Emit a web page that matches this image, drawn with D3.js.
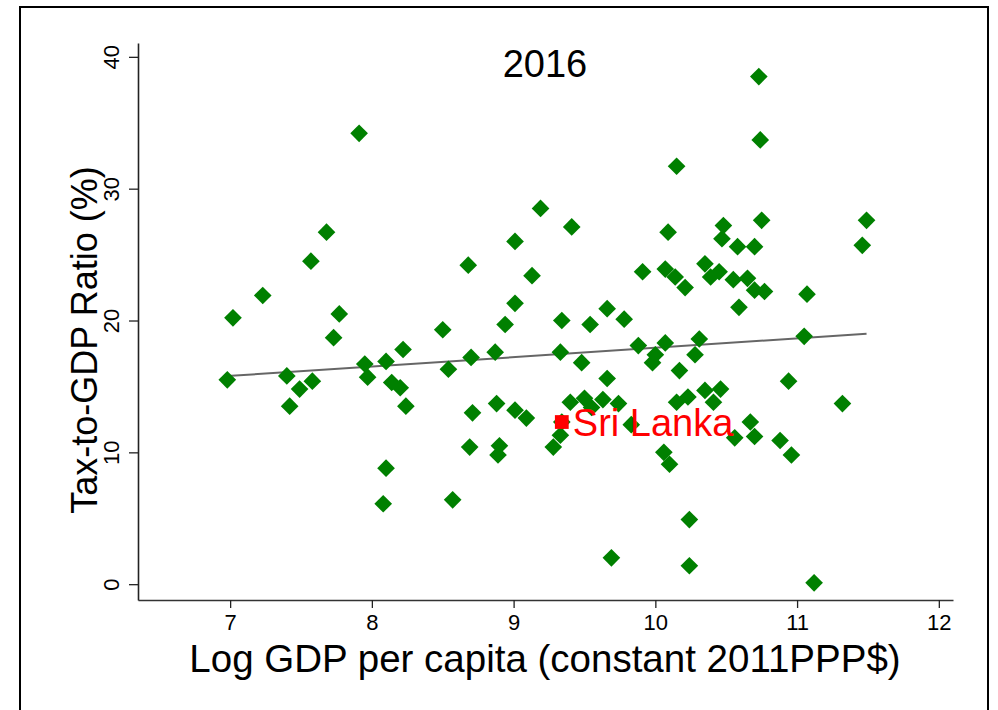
<!DOCTYPE html>
<html>
<head>
<meta charset="utf-8">
<script src="https://cdn.jsdelivr.net/npm/d3@7"></script>
<style>
  html, body { margin: 0; padding: 0; background: #fff; }
  svg { display: block; font-family: "Liberation Sans", Arial, sans-serif; }
</style>
</head>
<body>
<svg id="chart" width="998" height="710"></svg>
<script>
// Log GDP per capita (constant 2011 PPP$) and tax-to-GDP ratio (%), 2016
const logGdp = [
  6.98, 7.02, 7.23, 7.40, 7.42, 7.49, 7.57, 7.58, 7.68, 7.73,
  7.77, 7.91, 7.95, 7.97, 8.10, 8.22, 8.14, 8.20, 8.24, 8.10,
  8.08, 8.50, 8.54, 8.70, 8.87, 8.68, 8.71, 8.69, 8.57, 8.88,
  8.90, 8.89, 9.01, 9.09, 8.94, 9.01, 9.01, 9.13, 9.19, 9.41,
  9.34, 9.54, 9.66, 9.78, 9.33, 9.48, 9.66, 9.40, 9.50, 9.63,
  9.74, 9.55, 9.83, 9.33, 9.28, 9.34, 9.69, 9.88, 10.07, 10.31,
  10.00, 9.98, 10.28, 10.17, 10.15, 10.23, 10.35, 10.46, 10.41, 10.67,
  10.70, 10.56, 10.88, 10.96, 10.06, 10.10, 10.24, 10.24, 11.12, 10.94,
  11.32, 11.05, 11.07, 11.49, 11.46, 9.91, 10.09, 10.07, 10.14, 10.21,
  10.15, 10.35, 10.39, 10.45, 10.48, 10.47, 10.58, 10.70, 10.75, 10.55,
  10.65, 10.70, 10.77, 10.59, 10.73, 10.74
];
const taxRatio = [
  15.5, 20.2, 21.9, 15.8, 13.5, 14.8, 24.5, 15.4, 26.7, 18.7,
  20.5, 34.2, 16.7, 15.7, 16.9, 17.8, 15.3, 14.9, 13.5, 8.8,
  6.1, 19.3, 16.3, 17.2, 17.6, 24.2, 13.0, 10.4, 6.4, 13.7,
  10.5, 9.8, 13.2, 12.6, 19.7, 21.3, 26.0, 23.4, 28.5, 27.1,
  20.0, 19.7, 20.9, 20.1, 17.6, 16.8, 15.6, 13.8, 14.1, 14.0,
  13.7, 13.4, 12.1, 11.3, 10.4, 12.3, 2.0, 18.1, 18.3, 18.6,
  17.4, 16.8, 17.4, 16.2, 13.8, 14.2, 14.7, 14.8, 13.8, 12.3,
  11.2, 11.1, 10.9, 9.8, 10.0, 9.1, 4.9, 1.4, 0.1, 15.4,
  13.7, 18.8, 22.0, 27.6, 25.7, 23.7, 26.7, 23.9, 23.3, 22.5,
  31.7, 24.3, 23.3, 23.7, 27.2, 26.2, 25.6, 25.6, 27.6, 23.1,
  23.2, 22.3, 22.2, 21.0, 38.5, 33.7
];

// Highlighted country
const highlightName = ["Sri Lanka"];
const highlightGdp = [9.34];
const highlightTax = [12.3];

// Linear fit line
const fitIntercept = 10.82;
const fitSlope = 0.711;

// Axis ticks
const xTicks = [7, 8, 9, 10, 11, 12];
const yTicks = [0, 10, 20, 30, 40];

const titleText = "2016";
const xLabel = "Log GDP per capita (constant 2011PPP$)";
const yLabel = "Tax-to-GDP Ratio (%)";

const svg = d3.select("#chart");

// outer frame
svg.append("rect")
  .attr("x", 20).attr("y", 7)
  .attr("width", 968).attr("height", 740)
  .attr("fill", "none").attr("stroke", "#000").attr("stroke-width", 2);

const x = d3.scaleLinear().domain([6.35, 12.1]).range([138, 953]);
const y = d3.scaleLinear().domain([-1.2, 41.05]).range([600, 43]);

// x axis
const xAxis = svg.append("g")
  .attr("transform", `translate(0,${y.range()[0]})`)
  .call(d3.axisBottom(x).tickValues(xTicks).tickFormat(d3.format("d"))
    .tickSizeInner(8).tickSizeOuter(0).tickPadding(6));
xAxis.select(".domain").attr("stroke", "#333").attr("stroke-width", 1.6);
xAxis.selectAll(".tick line").attr("stroke", "#222").attr("stroke-width", 1.3);
xAxis.selectAll(".tick text")
  .attr("font-size", 22).attr("fill", "#000")
  .attr("font-family", "Liberation Sans, Arial, sans-serif");

// y axis with rotated tick labels
const yAxis = svg.append("g")
  .attr("transform", `translate(${x.range()[0]},0)`)
  .call(d3.axisLeft(y).tickValues(yTicks).tickFormat(d3.format("d"))
    .tickSizeInner(9).tickSizeOuter(0));
yAxis.select(".domain").attr("stroke", "#222").attr("stroke-width", 1.6);
yAxis.selectAll(".tick line").attr("stroke", "#222").attr("stroke-width", 1.3);
yAxis.selectAll(".tick text").remove();
yAxis.selectAll(".tick").append("text")
  .attr("transform", "translate(-19,0) rotate(-90)")
  .attr("text-anchor", "middle")
  .attr("font-size", 22)
  .attr("fill", "#000")
  .attr("font-family", "Liberation Sans, Arial, sans-serif")
  .text(d => d);

// fit line across the range of the data
const xMin = d3.min(logGdp), xMax = d3.max(logGdp);
svg.append("line")
  .attr("x1", x(xMin)).attr("y1", y(fitIntercept + fitSlope * xMin))
  .attr("x2", x(xMax)).attr("y2", y(fitIntercept + fitSlope * xMax))
  .attr("stroke", "#666").attr("stroke-width", 2);

// country markers (diamonds)
const diamond = d3.symbol().type(d3.symbolSquare).size(156);
svg.append("g").selectAll("path")
  .data(logGdp.map((g, i) => [g, taxRatio[i]]))
  .join("path")
  .attr("d", diamond)
  .attr("transform", d => `translate(${x(d[0])},${y(d[1])}) rotate(45)`)
  .attr("fill", "#008000");

// highlighted country
const square = d3.symbol().type(d3.symbolSquare).size(190);
const hl = svg.append("g");
hl.selectAll("path")
  .data(highlightGdp.map((g, i) => [g, highlightTax[i], highlightName[i]]))
  .join("path")
  .attr("d", square)
  .attr("transform", d => `translate(${x(d[0])},${y(d[1])})`)
  .attr("fill", "#ff0000");
hl.selectAll("text")
  .data(highlightGdp.map((g, i) => [g, highlightTax[i], highlightName[i]]))
  .join("text")
  .attr("x", d => x(d[0]) + 11)
  .attr("y", d => y(d[1]) + 14)
  .attr("font-size", 38)
  .attr("fill", "#ff0000")
  .text(d => d[2]);

// title
svg.append("text")
  .attr("x", 545).attr("y", 77)
  .attr("text-anchor", "middle")
  .attr("font-size", 38)
  .attr("fill", "#000")
  .text(titleText);

// axis titles
svg.append("text")
  .attr("x", 545).attr("y", 672)
  .attr("text-anchor", "middle")
  .attr("font-size", 38.5)
  .attr("fill", "#000")
  .text(xLabel);

svg.append("text")
  .attr("transform", "translate(97,340) rotate(-90)")
  .attr("text-anchor", "middle")
  .attr("font-size", 36)
  .attr("fill", "#000")
  .text(yLabel);
</script>
</body>
</html>
